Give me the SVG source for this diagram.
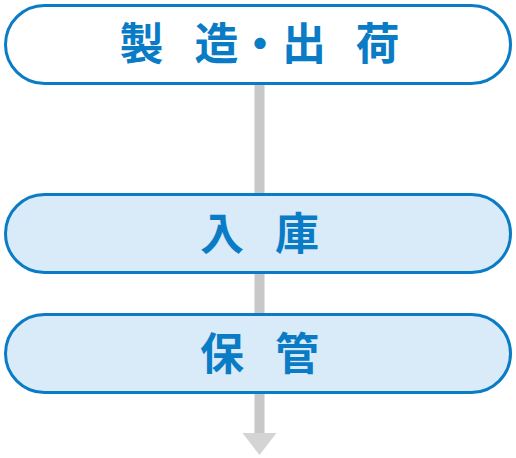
<svg xmlns="http://www.w3.org/2000/svg" width="516" height="458" viewBox="0 0 516 458">
<style>
.box{stroke:#0a7cc6;stroke-width:3}
.white{fill:#ffffff}
.blue{fill:#d9eaf8}
.lbl{font-family:"Noto Sans CJK JP","Noto Sans CJK SC",sans-serif;font-weight:bold;font-size:44px;fill:#0a7cc6;text-anchor:middle}
</style>
<rect width="516" height="458" fill="#ffffff"/>
<g id="connectors">
<rect x="254.5" y="84" width="10" height="350" fill="#c8c8c8"/>
<polygon points="242.5,433 276.5,433 259.5,455" fill="#d4d4d4"/>
</g>
<g id="node-seizo">
<rect class="box white" x="5.5" y="5.5" width="505" height="78" rx="39"/>
<text class="lbl" x="141.5 180 216.5 260 304 340 377.5" y="60">製 造・出 荷</text>
</g>
<g id="node-nyuko">
<rect class="box blue" x="5.5" y="194.5" width="505" height="78" rx="39"/>
<text class="lbl" x="222 260 297" y="250">入 庫</text>
</g>
<g id="node-hokan">
<rect class="box blue" x="5.5" y="314.5" width="505" height="78" rx="39"/>
<text class="lbl" x="222 260 297" y="370">保 管</text>
</g>
</svg>
